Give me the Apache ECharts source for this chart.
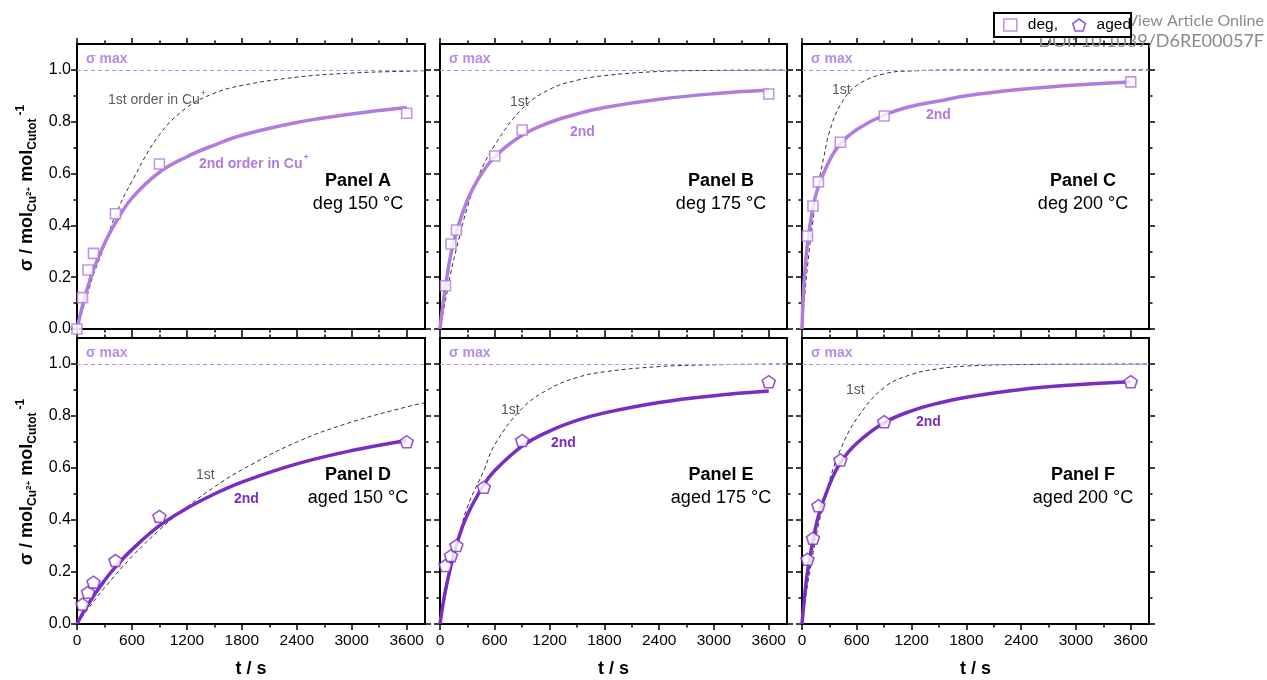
<!DOCTYPE html>
<html><head><meta charset="utf-8">
<script src="https://cdn.jsdelivr.net/npm/echarts@6/dist/echarts.min.js"></script>
<style>html,body{margin:0;padding:0;background:#fff}#c{width:1267px;height:680px}</style>
</head><body><div id="c"></div>
<script>
// ---------- tick values ----------
const xTicks = [0, 600, 1200, 1800, 2400, 3000, 3600];
const xMinor = [300, 900, 1500, 2100, 2700, 3300];
const yTicks = [0, 0.2, 0.4, 0.6, 0.8, 1.0];
const yMinor = [0.1, 0.3, 0.5, 0.7, 0.9];

const panelNames = ['Panel A', 'Panel B', 'Panel C', 'Panel D', 'Panel E', 'Panel F'];
const panelConds = ['deg 150 °C', 'deg 175 °C', 'deg 200 °C', 'aged 150 °C', 'aged 175 °C', 'aged 200 °C'];

// ---------- measured points (t / s, sigma) ----------
const tA = [0, 60, 120, 180, 420, 900, 3600];
const sA = [0, 0.121, 0.228, 0.292, 0.445, 0.637, 0.833];
const tB = [60, 120, 180, 600, 900, 3600];
const sB = [0.167, 0.328, 0.382, 0.668, 0.768, 0.907];
const tC = [60, 120, 180, 420, 900, 3600];
const sC = [0.359, 0.475, 0.568, 0.721, 0.822, 0.954];
const tD = [60, 120, 180, 420, 900, 3600];
const sD = [0.076, 0.122, 0.161, 0.244, 0.414, 0.701];
const tE = [60, 120, 180, 480, 900, 3600];
const sE = [0.225, 0.263, 0.302, 0.526, 0.706, 0.932];
const tF = [60, 120, 180, 420, 900, 3600];
const sF = [0.249, 0.330, 0.455, 0.631, 0.778, 0.932];

// ---------- 2nd order fit curves ----------
const fitA_t = [0, 30, 60, 120, 180, 300, 420, 600, 900, 1200, 1500, 1800, 2400, 3000, 3600];
const fitA   = [0, 0.047, 0.09, 0.165, 0.23, 0.33, 0.41, 0.505, 0.605, 0.665, 0.71, 0.748, 0.797, 0.83, 0.855];
const fitB_t = [0, 30, 60, 120, 180, 300, 420, 600, 900, 1200, 1500, 1800, 2400, 3000, 3600];
const fitB   = [0, 0.09, 0.165, 0.29, 0.375, 0.497, 0.58, 0.665, 0.748, 0.797, 0.83, 0.855, 0.887, 0.908, 0.922];
const fitC_t = [0, 15, 30, 60, 120, 180, 300, 420, 600, 900, 1200, 1500, 1800, 2400, 3000, 3600];
const fitC   = [0, 0.14, 0.215, 0.33, 0.47, 0.55, 0.65, 0.715, 0.77, 0.826, 0.86, 0.88, 0.9, 0.925, 0.942, 0.953];
const fitD_t = [0, 60, 120, 180, 300, 420, 600, 900, 1200, 1500, 1800, 2400, 3000, 3600];
const fitD   = [0, 0.04, 0.075, 0.107, 0.167, 0.22, 0.286, 0.378, 0.445, 0.5, 0.546, 0.616, 0.667, 0.706];
const fitE_t = [0, 30, 60, 120, 180, 300, 480, 600, 900, 1200, 1500, 1800, 2400, 3000, 3600];
const fitE   = [0, 0.07, 0.13, 0.225, 0.305, 0.42, 0.535, 0.59, 0.684, 0.742, 0.783, 0.812, 0.852, 0.878, 0.896];
const fitF_t = [0, 30, 60, 120, 180, 300, 420, 600, 900, 1200, 1500, 1800, 2400, 3000, 3600];
const fitF   = [0, 0.11, 0.2, 0.32, 0.415, 0.535, 0.62, 0.695, 0.774, 0.82, 0.85, 0.872, 0.902, 0.92, 0.932];

// ---------- 1st order curves ----------
const firstA_t = [0, 60, 120, 180, 300, 420, 600, 900, 1200, 1500, 1800, 2400, 3000, 3600, 3800];
const firstA   = [0, 0.07, 0.14, 0.21, 0.32, 0.44, 0.57, 0.75, 0.855, 0.91, 0.94, 0.972, 0.988, 0.995, 0.997];
const firstB_t = [0, 60, 120, 180, 300, 420, 600, 900, 1200, 1500, 1800, 2400, 3000, 3800];
const firstB   = [0, 0.11, 0.22, 0.31, 0.47, 0.59, 0.71, 0.85, 0.925, 0.96, 0.978, 0.994, 0.998, 1.0];
const firstC_t = [0, 30, 60, 120, 180, 240, 300, 420, 600, 900, 1200, 1800, 3800];
const firstC   = [0, 0.13, 0.24, 0.42, 0.56, 0.665, 0.76, 0.865, 0.94, 0.985, 0.996, 1.0, 1.0];
const firstD_t = [0, 120, 300, 600, 900, 1200, 1500, 1800, 2400, 3000, 3600, 3800];
const firstD   = [0, 0.058, 0.139, 0.259, 0.362, 0.45, 0.527, 0.593, 0.7, 0.777, 0.835, 0.851];
const firstE_t = [0, 60, 120, 180, 300, 480, 600, 900, 1200, 1500, 1800, 2400, 3000, 3800];
const firstE   = [0, 0.11, 0.21, 0.3, 0.45, 0.59, 0.69, 0.83, 0.905, 0.948, 0.97, 0.99, 0.997, 1.0];
const firstF_t = [0, 60, 120, 180, 300, 420, 600, 900, 1200, 1500, 1800, 2400, 3800];
const firstF   = [0, 0.15, 0.27, 0.38, 0.55, 0.67, 0.79, 0.91, 0.96, 0.982, 0.992, 0.998, 1.0];

// ---------- styling / layout ----------
const FONT = "'Liberation Sans', Arial, sans-serif";
const DEG = '#B07CDE', AGED = '#7A2DC2', SIGMA = '#B98BE8', GREY1 = '#5a5a5a';
const PENT = 'path://M0,-1L0.951,-0.309L0.588,0.809L-0.588,0.809L-0.951,-0.309Z';
const cols = [{ left: 77, width: 348 }, { left: 440, width: 347 }, { left: 802, width: 347 }];
const rows = [{ top: 44, height: 285 }, { top: 338, height: 286 }];

const panels = [
  { t: tA, s: sA, ft: fitA_t, f: fitA, et: firstA_t, e: firstA, kind: 'deg' },
  { t: tB, s: sB, ft: fitB_t, f: fitB, et: firstB_t, e: firstB, kind: 'deg' },
  { t: tC, s: sC, ft: fitC_t, f: fitC, et: firstC_t, e: firstC, kind: 'deg' },
  { t: tD, s: sD, ft: fitD_t, f: fitD, et: firstD_t, e: firstD, kind: 'aged' },
  { t: tE, s: sE, ft: fitE_t, f: fitE, et: firstE_t, e: firstE, kind: 'aged' },
  { t: tF, s: sF, ft: fitF_t, f: fitF, et: firstF_t, e: firstF, kind: 'aged' }
];
// annotation label positions (pixels)
const firstLbl = [[108, 100, true], [510, 102], [832, 90], [196, 475], [501, 410], [846, 390]];
const secondLbl = [[199, 164, true], [570, 132], [926, 115], [234, 499], [551, 443], [916, 422]];

const grid = [], xAxis = [], yAxis = [], series = [], graphic = [];
const zip = (a, b) => a.map((v, k) => [v, b[k]]);

panels.forEach((p, i) => {
  const r = Math.floor(i / 3), c = i % 3;
  const L = cols[c].left, W = cols[c].width, T = rows[r].top, H = rows[r].height;
  grid.push({ left: L, top: T, width: W, height: H });
  const mkX = (pos, major, showLabel) => ({
    type: 'value', gridIndex: i, position: pos, min: 0, max: 3800, interval: major ? 600 : 300,
    axisLine: { show: major, onZero: false, lineStyle: { color: '#000', width: 2 } },
    axisTick: { show: true, inside: false, length: major ? 6 : 3.5, customValues: major ? xTicks : xMinor, lineStyle: { color: '#000', width: 1.5 } },
    axisLabel: { show: showLabel, customValues: xTicks, color: '#000', fontSize: 15.5, fontFamily: FONT, margin: 9, formatter: v => String(v) },
    splitLine: { show: false }, minorTick: { show: false }
  });
  const mkY = (pos, major, showLabel) => ({
    type: 'value', gridIndex: i, position: pos, min: 0, max: 1.1, interval: major ? 0.2 : 0.1,
    axisLine: { show: major, onZero: false, lineStyle: { color: '#000', width: 2 } },
    axisTick: { show: true, inside: false, length: major ? 6 : 3.5, customValues: major ? yTicks : yMinor, lineStyle: { color: '#000', width: 1.5 } },
    axisLabel: { show: showLabel, customValues: yTicks, color: '#000', fontSize: 16, fontFamily: FONT, margin: 6, formatter: v => v.toFixed(1) },
    splitLine: { show: false }, minorTick: { show: false }
  });
  xAxis.push(mkX('bottom', true, r === 1), mkX('bottom', false, false), mkX('top', true, false), mkX('top', false, false));
  yAxis.push(mkY('left', true, c === 0), mkY('left', false, false), mkY('right', true, false), mkY('right', false, false));

  const col = p.kind === 'deg' ? DEG : AGED;
  series.push({
    type: 'line', xAxisIndex: 4 * i, yAxisIndex: 4 * i, data: zip(p.et, p.e), showSymbol: false,
    smooth: 0.4, lineStyle: { color: '#333', width: 1, type: [4, 3] }, silent: true, z: 2,
    markLine: { silent: true, symbol: 'none', label: { show: false }, lineStyle: { color: SIGMA, width: 1.2, type: [4, 3] }, data: [{ yAxis: 1 }] }
  });
  series.push({
    type: 'line', xAxisIndex: 4 * i, yAxisIndex: 4 * i, data: zip(p.ft, p.f), showSymbol: false,
    smooth: 0.4, lineStyle: { color: col, width: 3.5 }, silent: true, z: 3
  });
  series.push({
    type: 'scatter', name: p.kind, xAxisIndex: 4 * i, yAxisIndex: 4 * i, data: zip(p.t, p.s),
    symbol: p.kind === 'deg' ? 'rect' : PENT, symbolSize: p.kind === 'deg' ? 10 : [13, 12],
    itemStyle: { color: '#fff', borderColor: col, borderWidth: 1.6 }, z: 4, silent: true
  });

  // texts
  graphic.push({ type: 'text', x: L + 9, y: T + 15.5, style: { text: 'σ max', fill: SIGMA, font: 'bold 14px ' + FONT, align: 'left', verticalAlign: 'middle', textAlign: 'left', textVerticalAlign: 'middle' }, z: 5 });
  graphic.push({ type: 'text', x: L + 281, y: T + 137, style: { text: panelNames[i], fill: '#000', font: 'bold 18px ' + FONT, align: 'center', verticalAlign: 'middle', textAlign: 'center', textVerticalAlign: 'middle' }, z: 5 });
  graphic.push({ type: 'text', x: L + 281, y: T + 160, style: { text: panelConds[i], fill: '#000', font: '18px ' + FONT, align: 'center', verticalAlign: 'middle', textAlign: 'center', textVerticalAlign: 'middle' }, z: 5 });
  const f1 = firstLbl[i], f2 = secondLbl[i];
  graphic.push({ type: 'text', x: f1[0], y: f1[1], style: {
    text: f1[2] ? '{a|1st order in Cu}{p|+}' : '{a|1st}', align: 'left', verticalAlign: 'middle', textAlign: 'left', textVerticalAlign: 'middle',
    rich: { a: { fontSize: 14, fontFamily: FONT, fill: GREY1, verticalAlign: 'middle' }, p: { fontSize: 9, fontFamily: FONT, fill: GREY1, verticalAlign: 'middle', padding: [0, 0, 12, 1] } } }, z: 5 });
  graphic.push({ type: 'text', x: f2[0], y: f2[1], style: {
    text: f2[2] ? '{a|2nd order in Cu}{p|+}' : '{a|2nd}', align: 'left', verticalAlign: 'middle', textAlign: 'left', textVerticalAlign: 'middle',
    rich: { a: { fontSize: 14, fontWeight: 'bold', fontFamily: FONT, fill: col, verticalAlign: 'middle' }, p: { fontSize: 9, fontWeight: 'bold', fontFamily: FONT, fill: col, verticalAlign: 'middle', padding: [0, 0, 12, 1] } } }, z: 5 });
  if (r === 1) {
    graphic.push({ type: 'text', x: L + W / 2, y: 669, style: { text: 't / s', fill: '#000', font: 'bold 18px ' + FONT, align: 'center', verticalAlign: 'middle', textAlign: 'center', textVerticalAlign: 'middle' }, z: 5 });
  }
});

// y-axis titles
[188, 482].forEach(yc => {
  graphic.push({ type: 'text', x: 27, y: yc, rotation: Math.PI / 2, style: {
    text: '{m|σ / mol}{s|Cu}{ss|2+}{m| mol}{s|Cutot}{p|-1}', align: 'center', verticalAlign: 'middle', textAlign: 'center', textVerticalAlign: 'middle',
    rich: {
      m: { fontSize: 18, fontWeight: 'bold', fontFamily: FONT, fill: '#000', verticalAlign: 'middle' },
      s: { fontSize: 12, fontWeight: 'bold', fontFamily: FONT, fill: '#000', verticalAlign: 'middle', padding: [12, 0, 0, 0] },
      ss: { fontSize: 8, fontWeight: 'bold', fontFamily: FONT, fill: '#000', verticalAlign: 'middle', padding: [3, 0, 0, 0] },
      p: { fontSize: 12, fontWeight: 'bold', fontFamily: FONT, fill: '#000', verticalAlign: 'middle', padding: [0, 0, 13, 3] }
    } }, z: 5 });
});

// watermark text
graphic.push({ type: 'text', right: 3, top: 13, style: { text: 'View Article Online', fill: '#8a8a8a', font: '16px Lato, sans-serif' }, z: 1 });
graphic.push({ type: 'text', right: 3, top: 32, style: { text: 'DOI: 10.1039/D6RE00057F', fill: '#8a8a8a', font: '18px Lato, sans-serif' }, z: 1 });

const option = {
  animation: false,
  backgroundColor: '#fff',
  grid, xAxis, yAxis, series, graphic,
  legend: {
    left: 994, top: 13, z: 10, orient: 'horizontal',
    padding: [4, 0, 4, 9], itemGap: 14, itemWidth: 13, itemHeight: 12,
    backgroundColor: '#fff', borderColor: '#000', borderWidth: 2, borderRadius: 0,
    textStyle: { color: '#000', fontSize: 15.5, fontFamily: FONT, padding: [0, 0, 0, 6] },
    formatter: n => n === 'deg' ? 'deg,' : 'aged',
    data: [
      { name: 'deg', icon: 'rect', itemStyle: { color: '#fff', borderColor: DEG, borderWidth: 1.6 } },
      { name: 'aged', icon: PENT, itemStyle: { color: '#fff', borderColor: AGED, borderWidth: 1.6 } }
    ]
  }
};
const chart = echarts.init(document.getElementById('c'));
chart.setOption(option);
</script></body></html>
